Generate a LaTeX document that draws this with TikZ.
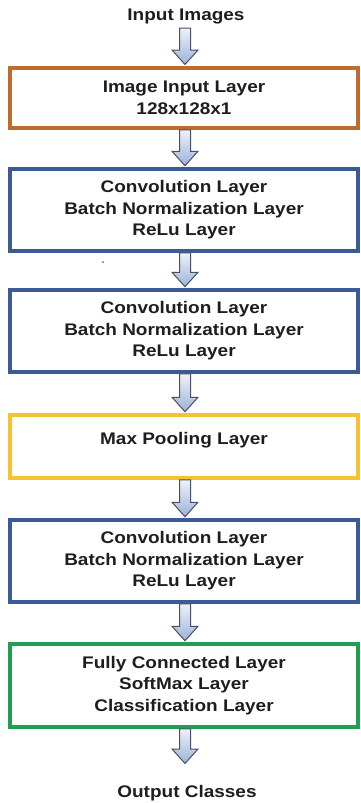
\documentclass[tikz,border=0pt]{standalone}
\usepackage{fontspec}
\newfontfamily\lab{Liberation Sans}[FakeStretch=1.13]
\usetikzlibrary{calc}
\definecolor{borange}{HTML}{C06A2C}
\definecolor{bblue}{HTML}{3C5A96}
\definecolor{byellow}{HTML}{F5C332}
\definecolor{bgreen}{HTML}{1EA050}
\definecolor{arrline}{HTML}{4A5060}
\definecolor{arrtop}{HTML}{EEF2F9}
\definecolor{arrbot}{HTML}{9CB2DA}
\definecolor{txt}{HTML}{1E1E1E}
\begin{document}
\begin{tikzpicture}[x=1pt,y=-1pt,
  lbl/.style={font=\lab\bfseries\fontsize{16.8}{21.5}\selectfont, text=txt, align=center, inner sep=0pt},
  layer/.style={lbl, draw, line width=3.5pt, minimum width=348pt, fill=white},
  blockarrow/.style={draw=arrline, line width=1pt, line join=miter, top color=arrtop, bottom color=arrbot,
    to path={let \p1=(\tikztostart), \p2=(\tikztotarget) in
      (185pt,\y1) -- (190.5pt,\y1) -- (190.5pt,\y2+16pt) -- (198pt,\y2+16pt) -- (185pt,\y2+1.5pt)
      -- (172pt,\y2+16pt) -- (179.5pt,\y2+16pt) -- (179.5pt,\y1) -- cycle}}
]
\useasboundingbox (0,0) rectangle (360,803);
\fill[white] (0,0) rectangle (360,803);

\node[lbl, anchor=base] (in) at (186,20) {Input Images};
\node[layer, draw=borange, minimum height=60pt] (l1) at (184,98) {Image Input Layer\\128x128x1};
\node[layer, draw=bblue, minimum height=82pt] (l2) at (184,210) {Convolution Layer\\Batch Normalization Layer\\ReLu Layer};
\node[layer, draw=bblue, minimum height=82pt] (l3) at (184,331) {Convolution Layer\\Batch Normalization Layer\\ReLu Layer};
\node[layer, draw=byellow, minimum height=63pt, text height=12pt, text depth=17pt] (l4) at (184,446.5) {Max Pooling Layer};
\node[layer, draw=bblue, minimum height=82pt] (l5) at (184,561) {Convolution Layer\\Batch Normalization Layer\\ReLu Layer};
\node[layer, draw=bgreen, minimum height=83pt] (l6) at (184,685.5) {Fully Connected Layer\\SoftMax Layer\\Classification Layer};
\node[lbl, anchor=base] (out) at (187,797) {Output Classes};
\coordinate (a0) at (185,28);
\coordinate (e0) at (185,66);
\coordinate (e7) at (185,765);

\fill[txt!70] (103,262) circle (1pt);

\draw[blockarrow] (a0) to (e0);
\draw[blockarrow] (l1.south) to (l2.north);
\draw[blockarrow] (l2.south) to (l3.north);
\draw[blockarrow] (l3.south) to (l4.north);
\draw[blockarrow] (l4.south) to (l5.north);
\draw[blockarrow] (l5.south) to (l6.north);
\draw[blockarrow] (l6.south) to (e7);
\end{tikzpicture}
\end{document}
